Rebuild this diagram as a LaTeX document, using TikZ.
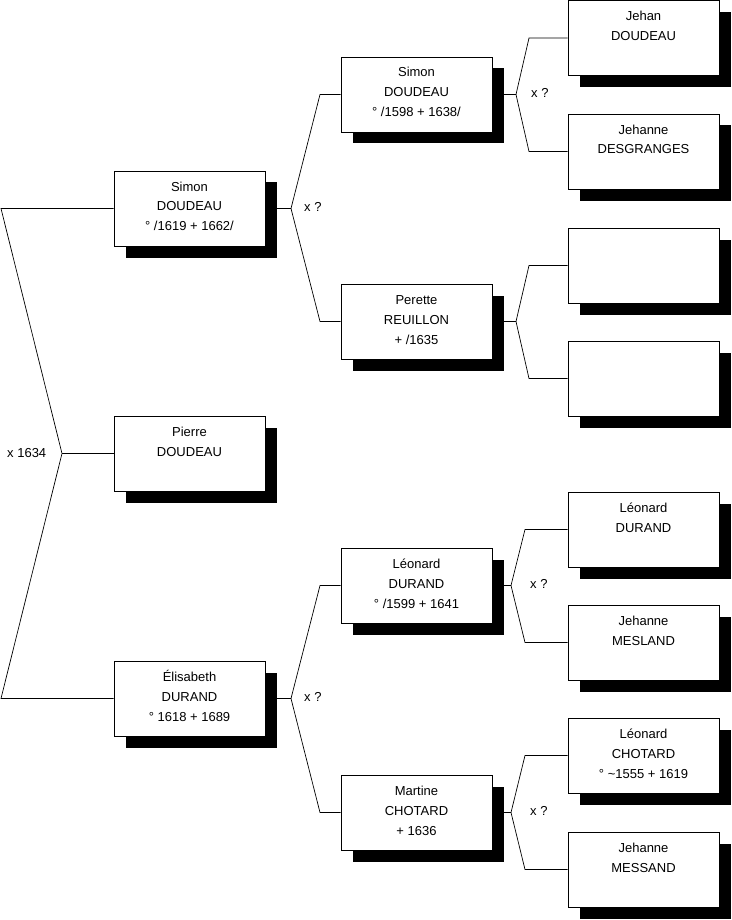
\documentclass[tikz,border=0pt]{standalone}
\usepackage{fontspec}
\setmainfont{Liberation Sans}
\usetikzlibrary{shadows}
\newcommand{\boxtxt}[1]{\parbox[c][75pt][t]{151pt}{\centering\fontsize{13}{20}\selectfont\rule{0pt}{20pt}#1\par}}
\tikzset{
  person/.style={draw=black, line width=0.7pt, fill=white, inner sep=0pt,
    drop shadow={shadow xshift=11.5pt, shadow yshift=-11.5pt, fill=black, opacity=1}},
  link/.style={draw=black, line width=0.7pt},
  marr/.style={font=\fontsize{13}{15}\selectfont, inner sep=0pt, anchor=west}
}
\begin{document}
\begin{tikzpicture}[x=1pt,y=-1pt]
\useasboundingbox (0,0) rectangle (731,920);
% generation 1
\node[person] (s1) at (189.5,208.5) {\boxtxt{Simon\\DOUDEAU\\° /1619 + 1662/}};
\node[person] (p1) at (189.5,453.5) {\boxtxt{Pierre\\DOUDEAU}};
\node[person] (e1) at (189.5,698.5) {\boxtxt{Élisabeth\\DURAND\\° 1618 + 1689}};
% generation 2
\node[person] (s2) at (416.5,94.5) {\boxtxt{Simon\\DOUDEAU\\° /1598 + 1638/}};
\node[person] (pe) at (416.5,321.5) {\boxtxt{Perette\\REUILLON\\+ /1635}};
\node[person] (l2) at (416.5,585.5) {\boxtxt{Léonard\\DURAND\\° /1599 + 1641}};
\node[person] (m2) at (416.5,812.5) {\boxtxt{Martine\\CHOTARD\\+ 1636}};
% generation 3
\node[person] (g1) at (643.5,38) {\boxtxt{Jehan\\DOUDEAU}};
\node[person] (g2) at (643.5,151.5) {\boxtxt{Jehanne\\DESGRANGES}};
\node[person] (g3) at (643.5,265.5) {\boxtxt{}};
\node[person] (g4) at (643.5,378.5) {\boxtxt{}};
\node[person] (g5) at (643.5,529.5) {\boxtxt{Léonard\\DURAND}};
\node[person] (g6) at (643.5,642.5) {\boxtxt{Jehanne\\MESLAND}};
\node[person] (g7) at (643.5,755.5) {\boxtxt{Léonard\\CHOTARD\\° \textasciitilde1555 + 1619}};
\node[person] (g8) at (643.5,869.5) {\boxtxt{Jehanne\\MESSAND}};
% root connector
\coordinate (r0a) at (1,208.5);
\coordinate (r0j) at (62,453.5);
\coordinate (r0b) at (1,698.5);
\draw[link] (s1.west) -- (r0a) -- (r0j) -- (r0b) -- (e1.west);
\draw[link] (r0j) -- (p1.west);
\node[marr] (lab0) at (7,453) {x 1634};
% Simon gen1 parents
\coordinate (j1) at (291,208.5);
\coordinate (j1a) at (320,94.5);
\coordinate (j1b) at (320,321.5);
\draw[link] (s1.east) -- (j1) -- (j1a) -- (s2.west);
\draw[link] (j1) -- (j1b) -- (pe.west);
\node[marr] (lab1) at (304,207) {x ?};
% Elisabeth parents
\coordinate (j2) at (291,698.5);
\coordinate (j2a) at (320,585.5);
\coordinate (j2b) at (320,812.5);
\draw[link] (e1.east) -- (j2) -- (j2a) -- (l2.west);
\draw[link] (j2) -- (j2b) -- (m2.west);
\node[marr] (lab2) at (304,697) {x ?};
% Simon gen2 parents
\coordinate (j3) at (516,94.5);
\coordinate (j3a) at (529,38);
\coordinate (j3b) at (529,151.5);
\draw[link] (s2.east) -- (j3) -- (j3a) -- (g1.west);
\draw[link] (j3) -- (j3b) -- (g2.west);
\node[marr] (lab3) at (531,93) {x ?};
% Perette parents
\coordinate (j4) at (516,321.5);
\coordinate (j4a) at (529,265.5);
\coordinate (j4b) at (529,378.5);
\draw[link] (pe.east) -- (j4) -- (j4a) -- (g3.west);
\draw[link] (j4) -- (j4b) -- (g4.west);
% Leonard parents
\coordinate (j5) at (511,585.5);
\coordinate (j5a) at (525,529.5);
\coordinate (j5b) at (525,642.5);
\draw[link] (l2.east) -- (j5) -- (j5a) -- (g5.west);
\draw[link] (j5) -- (j5b) -- (g6.west);
\node[marr] (lab5) at (530,584) {x ?};
% Martine parents
\coordinate (j6) at (511,812.5);
\coordinate (j6a) at (525,755.5);
\coordinate (j6b) at (525,869.5);
\draw[link] (m2.east) -- (j6) -- (j6a) -- (g7.west);
\draw[link] (j6) -- (j6b) -- (g8.west);
\node[marr] (lab6) at (530,811) {x ?};
\end{tikzpicture}
\end{document}
